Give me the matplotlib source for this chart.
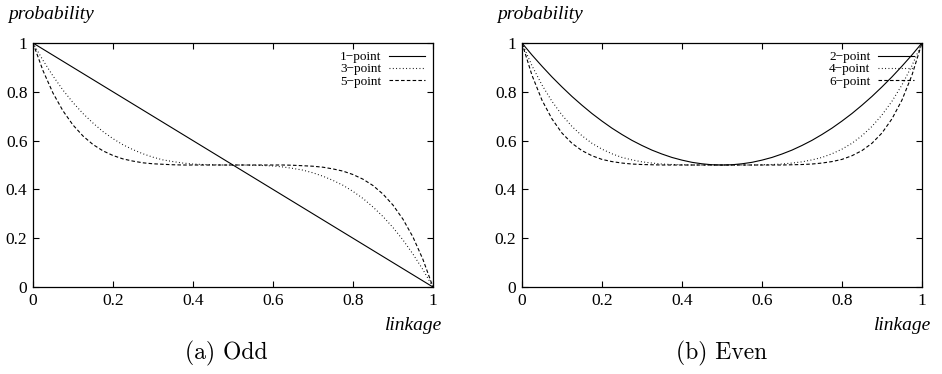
import matplotlib.pyplot as plt
import numpy as np

plt.rcParams['font.family'] = ['Liberation Serif', 'DejaVu Serif']

# sampling grid for the curves (linkage 0 .. 1, step 0.025)
linkage = np.linspace(0, 1, 41)

# odd-point crossover curves
one_point_x = [0.0, 1.0]
one_point = [1.0, 0.0]
three_point = [1.000, 0.929, 0.865, 0.807, 0.756, 0.711, 0.672, 0.637, 0.608, 0.583,
               0.563, 0.546, 0.532, 0.521, 0.514, 0.508, 0.504, 0.502, 0.501, 0.500,
               0.500, 0.500, 0.499, 0.498, 0.496, 0.492, 0.486, 0.479, 0.468, 0.454,
               0.437, 0.417, 0.392, 0.363, 0.328, 0.289, 0.244, 0.193, 0.135, 0.071, 0.000]
five_point = [1.000, 0.887, 0.795, 0.722, 0.664, 0.619, 0.584, 0.558, 0.539, 0.525,
              0.516, 0.509, 0.505, 0.503, 0.501, 0.500, 0.500, 0.500, 0.500, 0.500,
              0.500, 0.500, 0.500, 0.500, 0.500, 0.500, 0.499, 0.497, 0.495, 0.491,
              0.484, 0.475, 0.461, 0.442, 0.416, 0.381, 0.336, 0.278, 0.205, 0.113, 0.000]

# even-point crossover curves
two_point = [1.000, 0.951, 0.905, 0.861, 0.820, 0.781, 0.745, 0.711, 0.680, 0.651,
             0.625, 0.601, 0.580, 0.561, 0.545, 0.531, 0.520, 0.511, 0.505, 0.501,
             0.500, 0.501, 0.505, 0.511, 0.520, 0.531, 0.545, 0.561, 0.580, 0.601,
             0.625, 0.651, 0.680, 0.711, 0.745, 0.781, 0.820, 0.861, 0.905, 0.951, 1.000]
four_point = [1.000, 0.907, 0.828, 0.761, 0.705, 0.658, 0.620, 0.589, 0.565, 0.546,
              0.531, 0.521, 0.513, 0.508, 0.504, 0.502, 0.501, 0.500, 0.500, 0.500,
              0.500, 0.500, 0.500, 0.500, 0.501, 0.502, 0.504, 0.508, 0.513, 0.521,
              0.531, 0.546, 0.565, 0.589, 0.620, 0.658, 0.705, 0.761, 0.828, 0.907, 1.000]
six_point = [1.000, 0.868, 0.766, 0.689, 0.631, 0.589, 0.559, 0.538, 0.523, 0.514,
             0.508, 0.504, 0.502, 0.501, 0.500, 0.500, 0.500, 0.500, 0.500, 0.500,
             0.500, 0.500, 0.500, 0.500, 0.500, 0.500, 0.500, 0.501, 0.502, 0.504,
             0.508, 0.514, 0.523, 0.538, 0.559, 0.589, 0.631, 0.689, 0.766, 0.868, 1.000]

ticks = [0, 0.2, 0.4, 0.6, 0.8, 1]
tick_labels = ['0', '0.2', '0.4', '0.6', '0.8', '1']

fig = plt.figure(figsize=(9.42, 3.74), dpi=100)
ax_odd = fig.add_axes([0.035, 0.2326, 0.4246, 0.6524])
ax_even = fig.add_axes([0.5541, 0.2326, 0.4246, 0.6524])

lw = 0.8
dotted = (0, (0.8, 2.2))
dashed = (0, (3.2, 2.0))

ax_odd.plot(one_point_x, one_point, color='black', lw=lw, label='1\u2212point')
ax_odd.plot(linkage, three_point, color='black', lw=lw, linestyle=dotted, label='3\u2212point')
ax_odd.plot(linkage, five_point, color='black', lw=lw, linestyle=dashed, label='5\u2212point')

ax_even.plot(linkage, two_point, color='black', lw=lw, label='2\u2212point')
ax_even.plot(linkage, four_point, color='black', lw=lw, linestyle=dotted, label='4\u2212point')
ax_even.plot(linkage, six_point, color='black', lw=lw, linestyle=dashed, label='6\u2212point')

for ax in (ax_odd, ax_even):
    ax.set_xlim(0, 1)
    ax.set_ylim(0, 1)
    ax.set_xticks(ticks)
    ax.set_xticklabels(tick_labels)
    ax.set_yticks(ticks)
    ax.set_yticklabels(tick_labels)
    ax.tick_params(direction='in', top=True, right=True, length=4, width=0.8,
                   labelsize=12.5, pad=4)
    for sp in ax.spines.values():
        sp.set_linewidth(0.9)
    ax.legend(loc='upper right', frameon=False, markerfirst=False, fontsize=9.5,
              handlelength=2.7, handletextpad=0.6, labelspacing=0.0,
              borderaxespad=0.4, borderpad=0.2)
    ax.text(-0.063, 1.115, 'probability', transform=ax.transAxes, fontsize=14,
            style='italic', ha='left', va='center')
    ax.text(1.022, -0.158, 'linkage', transform=ax.transAxes, fontsize=14,
            style='italic', ha='right', va='center')

fig.text(0.24, 0.056, '(a) Odd', family='cmr10', fontsize=17, ha='center', va='center')
fig.text(0.766, 0.056, '(b) Even', family='cmr10', fontsize=17, ha='center', va='center')

fig.savefig('out.png', dpi=100)
